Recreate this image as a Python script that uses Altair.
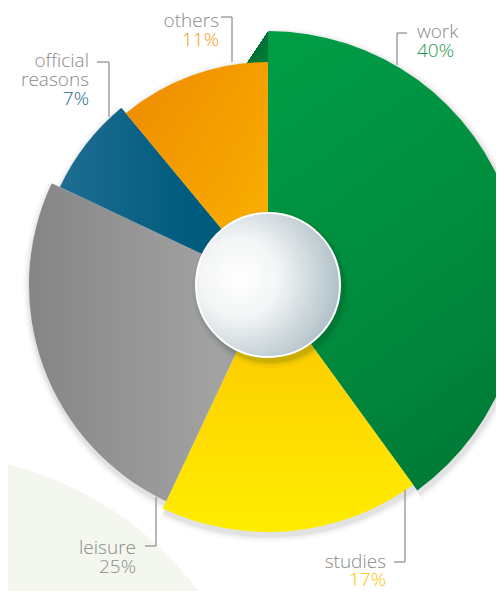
import math
import altair as alt
import pandas as pd

# ---- data -----------------------------------------------------------
categories = ["work", "studies", "leisure", "official reasons", "others"]
shares = [40, 17, 25, 7, 11]

# ---- style ----------------------------------------------------------
radii = [254, 247, 239, 230, 223]          # outer radius of each slice (px)
pct_colors = ["#1b9a4a", "#f6c500", "#8c8c8c", "#1a6a8f", "#f39c12"]
NAME_COLOR = "#8a8a8a"
LEADER_COLOR = "#9a9a9a"
FONT = "Open Sans"

W, H = 488, 583            # fits the 504x599 window with its 8px margin
CX, CY = 260, 277
TAU = 2 * math.pi


def lin(x1, y1, x2, y2, stops):
    return alt.LinearGradient(
        gradient="linear", x1=x1, y1=y1, x2=x2, y2=y2,
        stops=[alt.GradientStop(offset=o, color=c) for o, c in stops])


slice_fills = [
    lin(0.3, 0, 0.7, 1, [(0, "#009b45"), (0.5, "#008d3e"), (1, "#007a37")]),
    lin(0, 0, 0, 1, [(0, "#fcc400"), (1, "#ffed00")]),
    lin(0, 0, 1, 0, [(0, "#858585"), (0.8, "#a3a3a3"), (1, "#9a9a9a")]),
    lin(0, 0, 1, 0, [(0, "#1f6d92"), (0.6, "#005c7e"), (1, "#005a7a")]),
    lin(0, 0, 1, 1, [(0, "#ee8a00"), (1, "#fab400")]),
]

# label anchors (chart px): name x, name baseline, pct baseline, align
layout = {
    "work":             (409, 30, 48.5, "left"),
    "studies":          (378, 559.5, 577.5, "right"),
    "leisure":          (128, 545.5, 565, "right"),
    "official reasons": (81, 58.5, 97, "right"),
    "others":           (211, 19, 38, "right"),
}
# leader polylines: (horizontal x-start, x-end, y), (vertical x, y-start, y-end)
leaders = {
    "work":             ((399, 389, 25), (389, 25, 57)),
    "studies":          ((386, 397, 554), (397, 482, 554)),
    "leisure":          ((137, 148, 538), (148, 489, 538)),
    "official reasons": ((89, 101, 54), (101, 54, 109)),
    "others":           ((213, 224, 9), (224, 9, 54)),
}

df = pd.DataFrame({
    "category": categories,
    "share": shares,
    "order": list(range(len(categories))),
    "r": radii,
    "pcolor": pct_colors,
    "name": [c.replace(" ", "\n") for c in categories],
    "lx": [layout[c][0] for c in categories],
    "ly": [layout[c][1] for c in categories],
    "py": [layout[c][2] for c in categories],
    "align": [layout[c][3] for c in categories],
})

seg_rows = []
for c in categories:
    (hx1, hx2, hy), (vx, vy1, vy2) = leaders[c]
    seg_rows.append({"x": hx1, "x2": hx2, "y": hy, "y2": hy})
    seg_rows.append({"x": vx, "x2": vx, "y": vy1, "y2": vy2})
seg_df = pd.DataFrame(seg_rows)

one = pd.DataFrame({"k": [0]})
center = dict(x=alt.value(CX), y=alt.value(CY))

base = (
    alt.Chart(df)
    .transform_window(cum="sum(share)", sort=[alt.SortField("order")], frame=[None, 0])
    .transform_joinaggregate(total="sum(share)")
    .transform_calculate(
        t0="2*PI*(datum.cum-datum.share)/datum.total",
        t1="2*PI*datum.cum/datum.total",
    )
)
arc_enc = dict(
    theta=alt.Theta("t0:Q", scale=None),
    theta2="t1:Q",
    radius=alt.Radius("r:Q", scale=None),
    **center,
)

layers = []

# pale background disc (bottom-left)
layers.append(
    alt.Chart(one).mark_arc(theta=0, theta2=TAU, radius=341, fill="#f4f7ed")
    .encode(x=alt.value(-83), y=alt.value(787))
)

# soft shadow under slices
for dr, op in [(7, 0.025), (4.5, 0.04), (2.5, 0.05)]:
    layers.append(
        base.transform_calculate(rs=f"datum.r+{dr}")
        .mark_arc(fill="#000000", fillOpacity=op)
        .encode(theta=alt.Theta("t0:Q", scale=None), theta2="t1:Q",
                radius=alt.Radius("rs:Q", scale=None),
                x=alt.value(CX + 1), y=alt.value(CY + 3))
    )

# dark green fold behind "others"
fold = alt.LinearGradient(
    gradient="linear", x1=0, y1=0, x2=1, y2=1,
    stops=[alt.GradientStop(offset=0, color="rgba(0,110,50,0)"),
           alt.GradientStop(offset=0.5, color="rgba(0,110,50,0)"),
           alt.GradientStop(offset=0.5, color="#006f33"),
           alt.GradientStop(offset=1, color="#00843b")])
layers.append(
    alt.Chart(one).mark_arc(theta=TAU - 0.105, theta2=TAU, radius=radii[0],
                            radius2=215, fill=fold)
    .encode(**center)
)

# slices
for cat, fill in zip(categories, slice_fills):
    layers.append(
        base.transform_filter(alt.datum.category == cat)
        .mark_arc(fill=fill)
        .encode(**arc_enc)
    )

# centre disc shadow + disc
for rr, op in [(79, 0.04), (76, 0.07), (74, 0.1)]:
    layers.append(
        alt.Chart(one).mark_arc(theta=0, theta2=TAU, radius=rr,
                                fill="#00301a", fillOpacity=op)
        .encode(x=alt.value(CX + 3), y=alt.value(CY + 4))
    )
disc = alt.RadialGradient(
    gradient="radial", x1=0.3, y1=0.45, r1=0, x2=0.3, y2=0.45, r2=0.78,
    stops=[alt.GradientStop(offset=0, color="#ffffff"),
           alt.GradientStop(offset=0.35, color="#f3f5f6"),
           alt.GradientStop(offset=1, color="#a4b7bf")])
layers.append(
    alt.Chart(one).mark_arc(theta=0, theta2=TAU, radius=72,
                            fill=disc, stroke="#ffffff", strokeWidth=2)
    .encode(**center)
)

# leader lines
layers.append(
    alt.Chart(seg_df).mark_rule(color=LEADER_COLOR, strokeWidth=1.4)
    .encode(x=alt.X("x:Q", scale=None), x2="x2:Q",
            y=alt.Y("y:Q", scale=None), y2="y2:Q")
)

# labels
txt = dict(font=FONT, fontSize=19, fontWeight=300, baseline="alphabetic",
           lineBreak="\n", lineHeight=19)
for al in ["left", "right"]:
    sub = base.transform_filter(alt.datum.align == al)
    layers.append(
        sub.mark_text(align=al, color=NAME_COLOR, **txt)
        .encode(x=alt.X("lx:Q", scale=None), y=alt.Y("ly:Q", scale=None), text="name:N")
    )
    layers.append(
        sub.transform_calculate(pct="datum.share + '%'")
        .mark_text(align=al, **txt)
        .encode(x=alt.X("lx:Q", scale=None), y=alt.Y("py:Q", scale=None),
                text="pct:N", color=alt.Color("pcolor:N", scale=None))
    )

chart = (
    alt.layer(*layers)
    .properties(width=W, height=H, padding=0,
                autosize=alt.AutoSizeParams(type="none"), background="#ffffff")
    .configure_view(stroke=None)
)

chart.save("out.html", embed_options={"renderer": "svg", "actions": False})
